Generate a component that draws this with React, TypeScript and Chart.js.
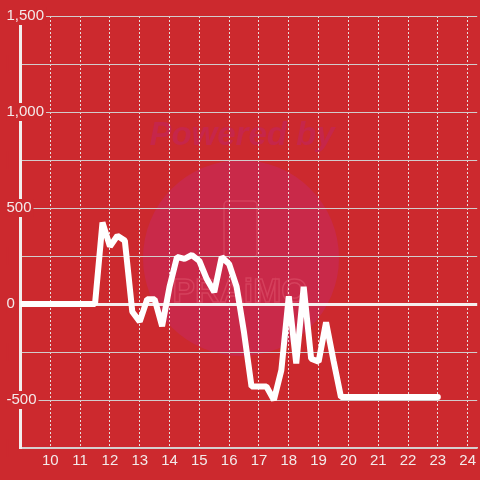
import { useEffect, useRef } from "react";
import { Chart, registerables } from "chart.js";

Chart.register(...registerables);

// ---- data ----
const times = [
  9, 9.25, 9.5, 9.75, 10, 10.25, 10.5, 10.75, 11, 11.25, 11.5, 11.75,
  12, 12.25, 12.5, 12.75, 13, 13.25, 13.5, 13.75, 14, 14.25, 14.5, 14.75,
  15, 15.25, 15.5, 15.75, 16, 16.25, 16.5, 16.75, 17, 17.25, 17.5, 17.75,
  18, 18.25, 18.5, 18.75, 19, 19.25, 19.5, 19.75, 20, 20.25, 20.5, 20.75,
  21, 21.25, 21.5, 21.75, 22, 22.25, 22.5, 22.75, 23,
];
const values = [
  0, 0, 0, 0, 0, 0, 0, 0, 0, 0, 0, 425,
  300, 355, 330, -40, -92, 25, 25, -115, 90, 245, 235, 255,
  224, 130, 62, 245, 208, 90, -150, -430, -430, -430, -500, -345,
  40, -310, 90, -285, -300, -95, -295, -485, -485, -485, -485, -485,
  -485, -485, -485, -485, -485, -485, -485, -485, -485,
];
const xTickValues = [10, 11, 12, 13, 14, 15, 16, 17, 18, 19, 20, 21, 22, 23, 24];
const yMin = -750;
const yMax = 1500;
const yGridStep = 250;
const yLabelStep = 500;
const xMin = 9;
const xMax = 24.32;

const BG = "#cc292e";
const FONT = "'Liberation Sans', Arial, sans-serif";

export default function App() {
  const ref = useRef<HTMLCanvasElement>(null);

  useEffect(() => {
    if (!ref.current) return;

    const bgPlugin = {
      id: "bgWatermark",
      beforeDraw(chart: any) {
        const { ctx, width, height } = chart;
        ctx.save();
        ctx.fillStyle = BG;
        ctx.fillRect(0, 0, width, height);
        // watermark circle
        ctx.beginPath();
        ctx.arc(241, 258, 98, 0, Math.PI * 2);
        ctx.fillStyle = "#c92949";
        ctx.fill();
        // "Powered by"
        ctx.font = `italic bold 33px ${FONT}`;
        ctx.textAlign = "center";
        ctx.textBaseline = "alphabetic";
        ctx.fillStyle = "#c6264a";
        ctx.fillText("Powered by", 242, 145);
        // logo outline
        ctx.strokeStyle = "rgba(235,110,130,0.35)";
        ctx.lineWidth = 1.5;
        ctx.beginPath();
        ctx.roundRect(224, 201, 33, 56, 4);
        ctx.stroke();
        ctx.font = `bold 34px ${FONT}`;
        ctx.strokeText("PRAiMO", 240, 302, 135);
        ctx.restore();
      },
    };

    const chart = new Chart(ref.current, {
      type: "line",
      data: {
        datasets: [
          {
            data: times.map((t, i) => ({ x: t, y: values[i] })),
            borderColor: "#ffffff",
            borderWidth: 6,
            pointRadius: 0,
            borderCapStyle: "round",
            borderJoinStyle: "bevel",
            tension: 0,
            fill: false,
          },
        ],
      },
      options: {
        animation: false,
        responsive: false,
        devicePixelRatio: 1,
        layout: { padding: { left: 5, top: 16, right: 0, bottom: 0 } },
        plugins: { legend: { display: false }, tooltip: { enabled: false } },
        scales: {
          x: {
            type: "linear",
            min: xMin,
            max: xMax,
            afterBuildTicks: (s: any) => {
              s.ticks = xTickValues.map((v) => ({ value: v }));
            },
            afterFit: (s: any) => {
              s.height = 32;
            },
            grid: { color: "#e6dede", lineWidth: 1, drawTicks: false },
            border: { display: true, color: "#d6d0d0", width: 1.5, dash: [2, 2] },
            ticks: {
              color: "#f3eaea",
              font: { size: 15, family: FONT },
              padding: 4,
              callback: (v: any) => String(v),
            },
          },
          y: {
            min: yMin,
            max: yMax,
            afterFit: (s: any) => {
              s.width = 15.5;
            },
            grid: {
              color: (c: any) => (c.tick && c.tick.value === 0 ? "#f4eeee" : "#d2cccc"),
              lineWidth: (c: any) => (c.tick && c.tick.value === 0 ? 3 : 1),
              drawTicks: false,
            },
            border: { display: true, color: "#f2eeee", width: 3 },
            ticks: {
              stepSize: yGridStep,
              mirror: true,
              padding: -14,
              crossAlign: "near",
              color: "#f3eaea",
              font: { size: 15, family: FONT },
              callback: (v: any) =>
                Number(v) % yLabelStep === 0 ? Number(v).toLocaleString("en-US") : "",
              showLabelBackdrop: true,
              backdropColor: BG,
              backdropPadding: { top: 0, bottom: 0, left: 0, right: 2 },
            },
          },
        },
      },
      plugins: [bgPlugin],
    } as any);

    return () => chart.destroy();
  }, []);

  return (
    <div style={{ position: "fixed", left: 0, top: 0, width: 480, height: 480 }}>
      <canvas ref={ref} width={480} height={480} style={{ display: "block" }} />
    </div>
  );
}
